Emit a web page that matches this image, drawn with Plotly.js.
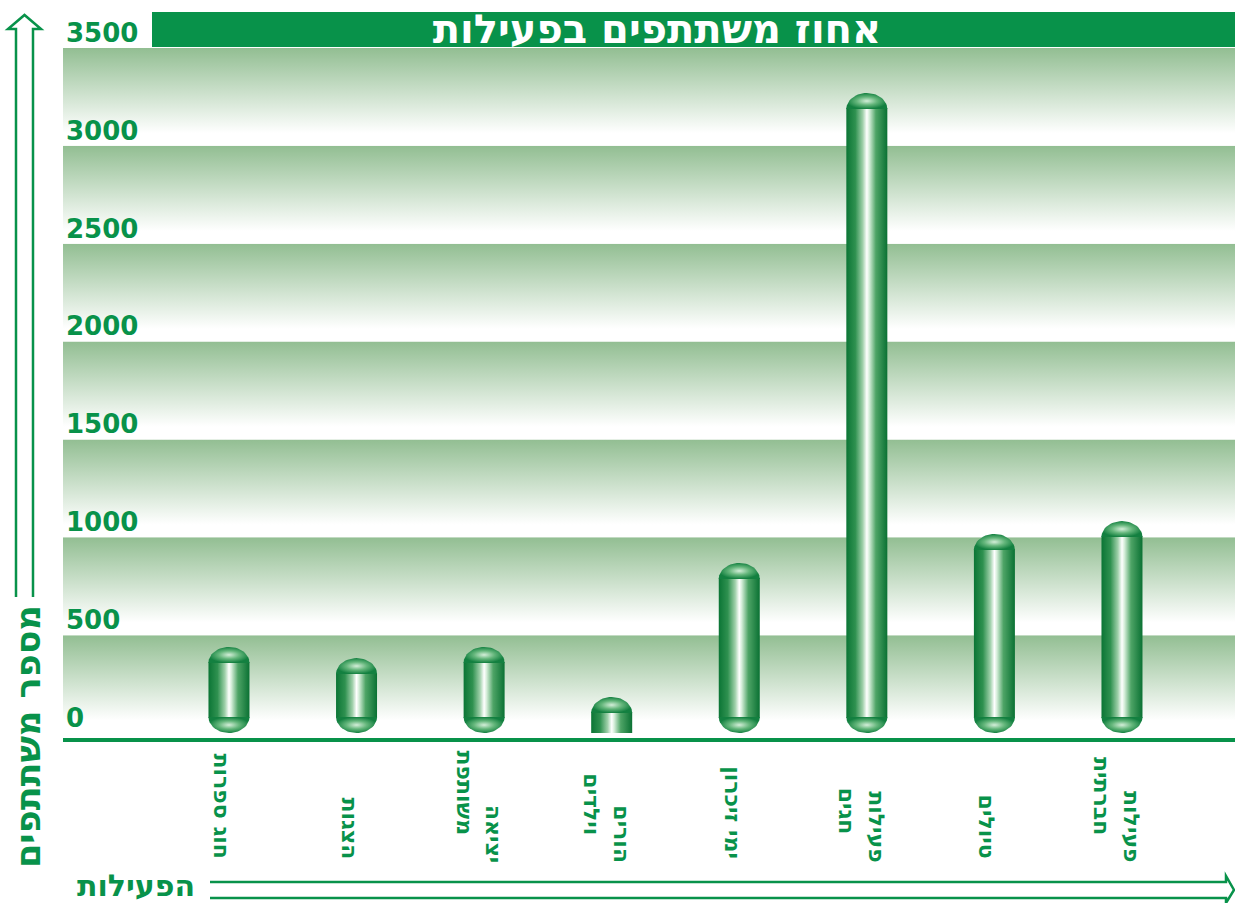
<!DOCTYPE html>
<html>
<head>
<meta charset="utf-8">
<script src="https://cdn.plot.ly/plotly-3.0.1.min.js"></script>
<style>
  html, body { margin: 0; padding: 0; background: #ffffff; }
  #chart { width: 1235px; height: 903px; }
</style>
</head>
<body>
<div id="chart"></div>
<script>
// ---------- data ----------
const categories = ["חוג ספרות", "הצגות", "יציאה<br>משותפת", "הורים<br>וילדים", "ימי זיכרון", "פעילות<br>חגים", "טיולים", "פעילות<br>חברתית"];
const participants = [440, 383, 440, 184, 869, 3270, 1017, 1083];
const yTickValues = [0, 500, 1000, 1500, 2000, 2500, 3000, 3500];
const chartTitle = "אחוז משתתפים בפעילות";
const yTitle = "מספר משתתפים";
const xTitle = "הפעילות";

// ---------- geometry / style ----------
const W = 1235, H = 903;
const M = { l: 63, r: 0, t: 10, b: 165 };
const plotW = W - M.l - M.r, plotH = H - M.t - M.b;
const ky = 685 / 3500;                         // px per y unit
const yRange = [-5 / ky, 3500 + (plotH - 690) / ky];
const xRange = [-1.301, 7.886];
const kx = plotW / (xRange[1] - xRange[0]);   // px per x unit
const GREEN = '#08924a';
const FONT = 'DejaVu Sans';

const PX = px => (px - M.l) / plotW;          // pixel -> paper x
const PY = py => (M.t + plotH - py) / plotH;  // pixel -> paper y

const traces = [];

// background bands (gradient from green at top to white at bottom)
for (let k = 0; k < yTickValues.length - 1; k++) {
  const y0 = yTickValues[k], y1 = yTickValues[k + 1];
  traces.push({
    type: 'scatter', mode: 'lines',
    x: [xRange[0], xRange[1], xRange[1], xRange[0], xRange[0]],
    y: [y0, y0, y1, y1, y0],
    line: { width: 0, color: 'rgba(0,0,0,0)' },
    fill: 'toself',
    fillgradient: { type: 'vertical', colorscale: [[0, '#ffffff'], [0.13, '#ffffff'], [1, '#92be92']] },
    hoverinfo: 'skip', showlegend: false
  });
}

// pill bars
const halfW = 20.5 / kx;
const capH = 16 / ky;
const bodyScale = [[0, '#0b7535'], [0.22, '#2f9150'], [0.4, '#9fd0aa'], [0.5, '#ffffff'], [0.56, '#d6eeda'], [0.72, '#4ea466'], [1, '#0a7133']];
const capScale = [[0, '#d4eed9'], [0.5, '#64b67b'], [1, '#138040']];
const N = 28;
participants.forEach((v, i) => {
  const hasBottom = v * ky >= 45;
  const bodyBottom = hasBottom ? capH : 0;
  const bodyTop = v - capH;
  const ov = 1 / ky;
  const yb = bodyBottom - (hasBottom ? ov : 0);
  traces.push({
    type: 'scatter', mode: 'lines',
    x: [i - halfW, i + halfW, i + halfW, i - halfW, i - halfW],
    y: [yb, yb, bodyTop + ov, bodyTop + ov, yb],
    line: { width: 0, color: 'rgba(0,0,0,0)' },
    fill: 'toself',
    fillgradient: { type: 'horizontal', colorscale: bodyScale },
    hoverinfo: 'skip', showlegend: false
  });
  const tx = [], ty = [];
  for (let s = 0; s <= N; s++) {
    const a = Math.PI * s / N;
    tx.push(i + halfW * Math.cos(a));
    ty.push(bodyTop + capH * Math.sin(a));
  }
  traces.push({
    type: 'scatter', mode: 'lines', x: tx, y: ty,
    line: { width: 0, color: 'rgba(0,0,0,0)' },
    fill: 'toself',
    fillgradient: { type: 'radial', colorscale: capScale },
    hoverinfo: 'skip', showlegend: false
  });
  if (hasBottom) {
    const bx = [], by = [];
    for (let s = 0; s <= N; s++) {
      const a = Math.PI + Math.PI * s / N;
      bx.push(i + halfW * Math.cos(a));
      by.push(capH + capH * Math.sin(a));
    }
    traces.push({
      type: 'scatter', mode: 'lines', x: bx, y: by,
      line: { width: 0, color: 'rgba(0,0,0,0)' },
      fill: 'toself',
      fillgradient: { type: 'radial', colorscale: capScale },
      hoverinfo: 'skip', showlegend: false
    });
  }
});

// category labels (rotated)
const annotations = [];
const labFont = { family: FONT, size: 22, color: GREEN, weight: 'bold' };
categories.forEach((c, i) => {
  const parts = c.split('<br>');
  if (parts.length === 1) {
    annotations.push({ text: parts[0], x: i, xref: 'x', xshift: -7, y: PY(861), yref: 'paper',
      xanchor: 'center', yanchor: 'bottom', textangle: 90, showarrow: false, font: labFont });
  } else {
    annotations.push({ text: parts[0], x: i, xref: 'x', xshift: 10, y: PY(865), yref: 'paper',
      xanchor: 'center', yanchor: 'bottom', textangle: 90, showarrow: false, font: labFont });
    annotations.push({ text: parts[1], x: i, xref: 'x', xshift: -20, y: PY(837), yref: 'paper',
      xanchor: 'center', yanchor: 'bottom', textangle: 90, showarrow: false, font: labFont });
  }
});
annotations.push({ text: yTitle, x: PX(28), xref: 'paper', y: PY(737), yref: 'paper',
  xanchor: 'center', yanchor: 'middle', textangle: -90, showarrow: false,
  font: { family: FONT, size: 35, color: GREEN, weight: 'bold' } });
annotations.push({ text: xTitle, x: PX(136), xref: 'paper', y: PY(885), yref: 'paper',
  xanchor: 'center', yanchor: 'middle', showarrow: false,
  font: { family: FONT, size: 30, color: GREEN, weight: 'bold' } });

// decorative shapes: title bar, arrows
const pathOf = pts => pts.map((p, j) => (j ? 'L' : 'M') + PX(p[0]).toFixed(5) + ',' + PY(p[1]).toFixed(5)).join(' ');
const shapes = [
  { type: 'rect', xref: 'paper', yref: 'paper', x0: PX(152), x1: PX(1235), y0: PY(47), y1: PY(12),
    fillcolor: GREEN, line: { width: 0 }, layer: 'above' },
  { type: 'path', xref: 'paper', yref: 'paper',
    path: pathOf([[16, 597], [16, 29], [8, 29], [24.5, 15], [41, 29], [33, 29], [33, 597]]),
    line: { color: GREEN, width: 2.5 }, fillcolor: 'rgba(0,0,0,0)' },
  { type: 'path', xref: 'paper', yref: 'paper',
    path: pathOf([[210, 882], [1226, 882], [1226, 876], [1234, 890], [1226, 903], [1226, 898], [210, 898]]),
    line: { color: GREEN, width: 2.5 }, fillcolor: 'rgba(0,0,0,0)' }
];

const layout = {
  width: W, height: H,
  margin: M,
  paper_bgcolor: '#ffffff', plot_bgcolor: '#ffffff',
  showlegend: false,
  title: {
    text: chartTitle, x: 657 / W, xanchor: 'center',
    y: 1 - 29 / H, yanchor: 'middle', yref: 'container',
    font: { family: FONT, size: 40, color: '#ffffff', weight: 'bold' }
  },
  xaxis: {
    range: xRange, showgrid: false, zeroline: false, showticklabels: false, ticks: '',
    showline: true, linecolor: GREEN, linewidth: 4, fixedrange: true
  },
  yaxis: {
    range: yRange, tickvals: yTickValues, ticktext: yTickValues.map(String),
    showgrid: false, zeroline: false, showline: false, ticks: '',
    ticklabelposition: 'inside top', ticklabelshift: 3,
    tickfont: { family: FONT, size: 26, color: GREEN, weight: 'bold' },
    fixedrange: true
  },
  annotations: annotations,
  shapes: shapes
};

Plotly.newPlot('chart', traces, layout, { displayModeBar: false, staticPlot: true });
</script>
</body>
</html>
